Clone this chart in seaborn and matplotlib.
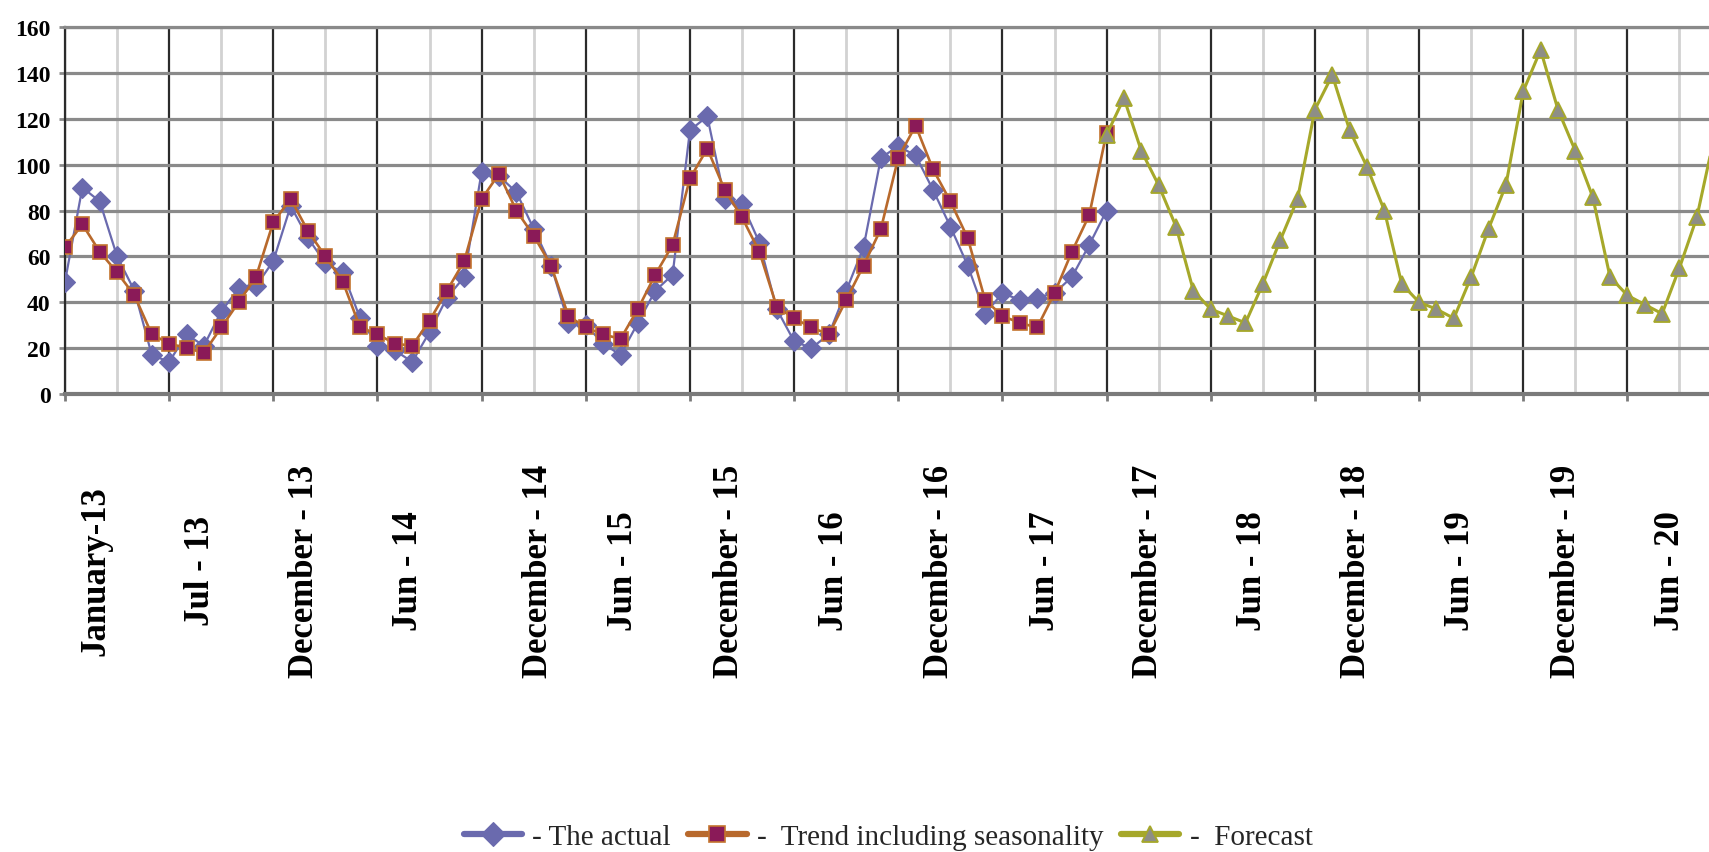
import numpy as np
import pandas as pd
import matplotlib
matplotlib.use("Agg")
import matplotlib.pyplot as plt
from matplotlib.transforms import blended_transform_factory
import seaborn as sns

# Monthly series; month index 0 = January 2013
actual = [49, 90, 84, 60, 45, 17, 14, 26, 21, 36, 46, 47,
          58, 82, 68, 57, 53, 33, 21, 19, 14, 27, 42, 51,
          97, 95, 88, 72, 56, 31, 30, 22, 17, 31, 45, 52,
          115, 121, 85, 83, 66, 37, 23, 20, 26, 45, 64, 103,
          108, 104, 89, 73, 56, 35, 44, 41, 42, 44, 51, 65,
          80]
trend = [64, 74, 62, 53, 43, 26, 22, 20, 18, 29, 40, 51,
         75, 85, 71, 60, 49, 29, 26, 22, 21, 32, 45, 58,
         85, 96, 80, 69, 56, 34, 29, 26, 24, 37, 52, 65,
         94, 107, 89, 77, 62, 38, 33, 29, 26, 41, 56, 72,
         103, 117, 98, 84, 68, 41, 34, 31, 29, 44, 62, 78,
         114]
forecast_start = 60
forecast = [113, 129, 106, 91, 73, 45, 37, 34, 31, 48, 67, 85,
            124, 139, 115, 99, 80, 48, 40, 37, 33, 51, 72, 91,
            132, 150, 124, 106, 86, 51, 43, 39, 35, 55, 77, 112]

series_names = ["- The actual", "-  Trend including seasonality", "-  Forecast"]

tick_labels = ["January-13", "Jul - 13", "December - 13", "Jun - 14",
               "December - 14", "Jun - 15", "December - 15", "Jun - 16",
               "December - 16", "Jun - 17", "December - 17", "Jun - 18",
               "December - 18", "Jun - 19", "December - 19", "Jun - 20"]
label_pos = [1.8, 7.8, 13.8, 19.8, 27.3, 32.2, 38.3, 44.3,
             50.4, 56.5, 62.4, 68.4, 74.4, 80.4, 86.5, 92.5]

df_actual = pd.DataFrame({"month": np.arange(len(actual)), "value": actual})
df_trend = pd.DataFrame({"month": np.arange(len(trend)), "value": trend})
df_fc = pd.DataFrame({"month": forecast_start + np.arange(len(forecast)),
                      "value": forecast})

sns.set_theme(style="white")
plt.rcParams["font.family"] = ["Liberation Serif", "DejaVu Serif"]

W, H = 1709, 853
fig = plt.figure(figsize=(W / 100, H / 100), dpi=100)
px_month = 17.36
x0, y0, ytop = 65, 395, 28
xmax = 96
# the plotting area runs on past the right edge of the figure
ax = fig.add_axes([x0 / W, 1 - y0 / H, xmax * px_month / W, (y0 - ytop) / H])

common = dict(ax=ax, x="month", y="value", errorbar=None, sort=False)
sns.lineplot(data=df_actual, **common, color="#6a6aae", linewidth=1.6,
             marker="D", markersize=10.5, markerfacecolor="#6a6aae",
             markeredgecolor="#6a6aae", markeredgewidth=0.8,
             label=series_names[0], zorder=3)
sns.lineplot(data=df_trend, **common, color="#b8692c", linewidth=1.9,
             marker="s", markersize=10.5, markerfacecolor="#8a1a58",
             markeredgecolor="#c4742f", markeredgewidth=1.2,
             label=series_names[1], zorder=4)
# the last forecast month lies just past the figure edge: only its line shows
sns.lineplot(data=df_fc, **common, color="#a6a82a", linewidth=2.2,
             marker="^", markersize=11.5, markerfacecolor="#8e8e86",
             markeredgecolor="#a6a82a", markeredgewidth=1.3,
             markevery=list(range(len(forecast) - 1)),
             label=series_names[2], zorder=5)

ax.set_xlim(0, xmax)
ax.set_ylim(0, 160)
ax.set_xlabel("")
ax.set_ylabel("")
ax.set_xticks(np.arange(0, xmax + 1, 6))
ax.set_xticks(np.arange(3, xmax, 6), minor=True)
ax.set_xticklabels([])
ax.set_yticks(np.arange(0, 161, 20))

ax.grid(False)
ax.grid(axis="x", which="major", color="#2b2b2b", linewidth=1.6)
ax.grid(axis="x", which="minor", color="#d2d2d2", linewidth=2.0)
ax.grid(axis="y", which="major", color="#8a8a8a", linewidth=2.3)
ax.set_axisbelow(True)

ax.tick_params(axis="x", which="major", direction="out", length=5, width=2,
               color="#7a7a7a", bottom=True)
ax.tick_params(axis="x", which="minor", length=0)
ax.tick_params(axis="y", direction="out", length=4.5, width=2,
               color="#8c8c8c", pad=6, labelsize=17, left=True,
               labelcolor="black")
for lab in ax.get_yticklabels():
    lab.set_fontweight("bold")

ax.spines["bottom"].set_color("#7a7a7a")
ax.spines["bottom"].set_linewidth(3)
ax.spines["left"].set_color("#2b2b2b")
ax.spines["left"].set_linewidth(1.6)
ax.spines["top"].set_color("#8a8a8a")
ax.spines["top"].set_linewidth(2.3)
ax.spines["right"].set_visible(False)

# rotated month labels, centred in the band below the axis
trans = blended_transform_factory(ax.transData, ax.transAxes)
ylab = -(571 - y0) / (y0 - ytop)
for pos, text in zip(label_pos, tick_labels):
    ax.text(pos, ylab, text, rotation=90, ha="center", va="center",
            fontsize=25, fontweight="bold", color="black", transform=trans)

handles, labels = ax.get_legend_handles_labels()
ax.get_legend().remove()
leg = fig.legend(handles, labels, loc="center",
                 bbox_to_anchor=(888 / W, 1 - 838 / H), ncol=3,
                 frameon=False, fontsize=21, handlelength=2.0,
                 handletextpad=0.35, columnspacing=0.6, borderaxespad=0)
for h in leg.legend_handles:
    h.set_linewidth(4.5)
    h.set_markersize(12)

fig.savefig("out.png", dpi=100)
